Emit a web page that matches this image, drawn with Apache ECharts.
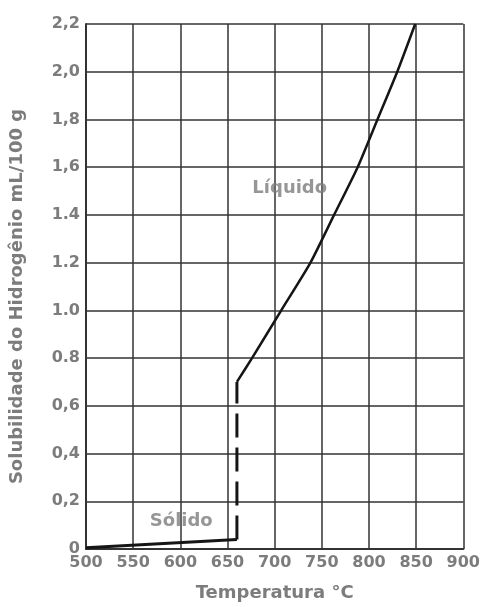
<!DOCTYPE html>
<html><head><meta charset="utf-8">
<script src="https://cdn.jsdelivr.net/npm/echarts@6/dist/echarts.min.js"></script>
<style>html,body{margin:0;padding:0;background:#fff}#c{width:483px;height:607px}</style>
</head><body><div id="c"></div>
<script>
var xTicks = [500, 550, 600, 650, 700, 750, 800, 850, 900];
var yTickLabels = ['0', '0,2', '0,4', '0,6', '0.8', '1.0', '1.2', '1.4', '1,6', '1,8', '2,0', '2,2'];
var solidTemp = [500, 660];
var solidVal = [0.005, 0.04];
var transTemp = [660, 660];
var transVal = [0.04, 0.70];
var liquidTemp = [660, 676, 707, 738, 763, 788, 809, 830, 849];
var liquidVal = [0.70, 0.80, 1.0, 1.2, 1.4, 1.6, 1.8, 2.0, 2.2];
var labels = [{name: 'Líquido', t: 716, v: 1.51}, {name: 'Sólido', t: 601, v: 0.116}];

function zip(a, b) { return a.map(function (x, i) { return [x, b[i]]; }); }
var txt = '#7c7c7c';
var font = '"DejaVu Sans", Verdana, sans-serif';
var lineCol = '#151515';
var chart = echarts.init(document.getElementById('c'));
chart.setOption({
  animation: false,
  backgroundColor: '#fff',
  grid: {left: 86, right: 17, top: 24, bottom: 54},
  xAxis: {
    type: 'value', min: 500, max: 900, interval: 50,
    name: 'Temperatura °C', nameLocation: 'middle', nameGap: 35,
    nameTextStyle: {color: txt, fontSize: 18, fontWeight: 'bold', fontFamily: font},
    axisLine: {show: true, lineStyle: {color: '#333', width: 2}},
    axisTick: {show: false},
    axisLabel: {color: txt, fontSize: 16, fontWeight: 'bold', fontFamily: font, margin: 6,
      formatter: function (v) { return xTicks.indexOf(v) >= 0 ? String(v) : ''; }},
    splitLine: {show: true, lineStyle: {color: '#333', width: 1.5}}
  },
  yAxis: {
    type: 'value', min: 0, max: 2.2, interval: 0.2,
    name: 'Solubilidade do Hidrogênio mL/100 g', nameLocation: 'middle', nameGap: 60,
    nameTextStyle: {color: txt, fontSize: 18, fontWeight: 'bold', fontFamily: font, padding: [0, 20, 0, 0]},
    axisLine: {show: true, lineStyle: {color: '#333', width: 2}},
    axisTick: {show: false},
    axisLabel: {color: txt, fontSize: 16, fontWeight: 'bold', fontFamily: font, margin: 6,
      formatter: function (v) { return yTickLabels[Math.round(v * 5)]; }},
    splitLine: {show: true, lineStyle: {color: '#333', width: 1.5}}
  },
  series: [
    {type: 'line', data: zip(solidTemp, solidVal), symbol: 'none',
      lineStyle: {color: lineCol, width: 3}},
    {type: 'line', data: zip(transTemp, transVal), symbol: 'none',
      lineStyle: {color: lineCol, width: 3, type: [24, 10]}},
    {type: 'line', data: zip(liquidTemp, liquidVal), symbol: 'none', smooth: 0.2,
      lineStyle: {color: lineCol, width: 2.5}},
    {type: 'scatter', symbolSize: 0,
      data: labels.map(function (l) { return {value: [l.t, l.v], name: l.name}; }),
      label: {show: true, position: 'inside', formatter: '{b}', color: txt,
        fontSize: 18, fontWeight: 'bold', fontFamily: font}}
  ]
});
</script></body></html>
